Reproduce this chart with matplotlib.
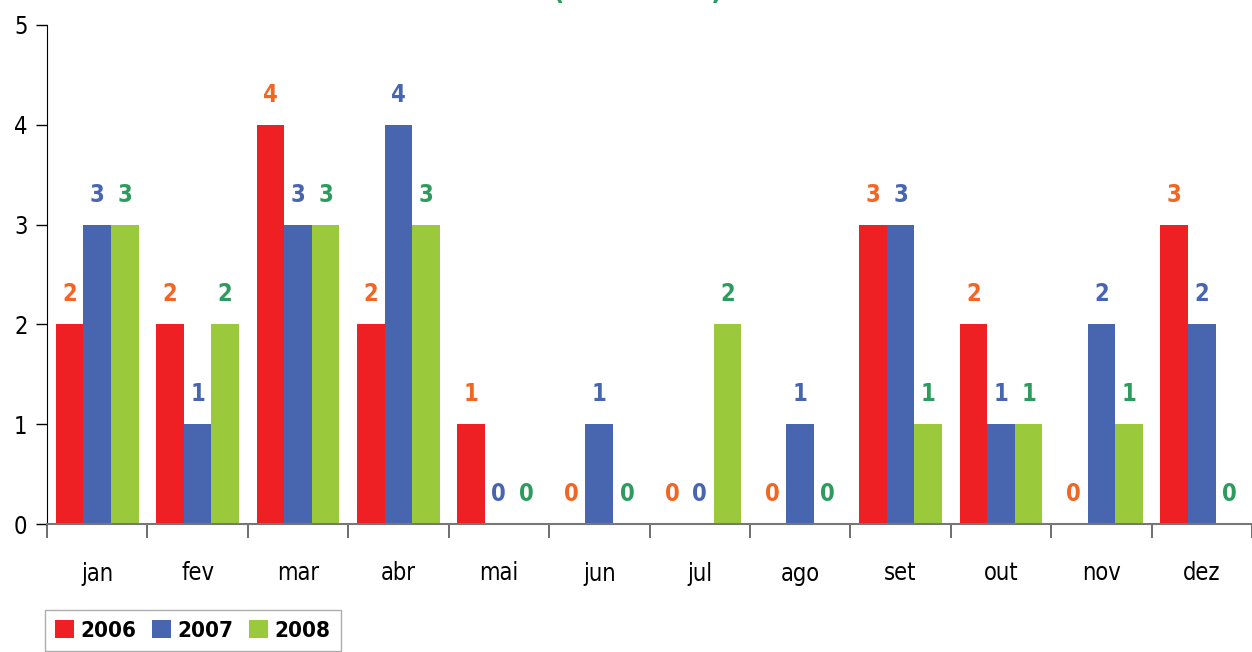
import matplotlib.pyplot as plt
import numpy as np

months = ['jan', 'fev', 'mar', 'abr', 'mai', 'jun', 'jul', 'ago', 'set', 'out', 'nov', 'dez']
years = ['2006', '2007', '2008']
v2006 = [2, 2, 4, 2, 1, 0, 0, 0, 3, 2, 0, 3]
v2007 = [3, 1, 3, 4, 0, 1, 0, 1, 3, 1, 2, 2]
v2008 = [3, 2, 3, 3, 0, 0, 2, 0, 1, 1, 1, 0]

bar_colors = ['#EE2024', '#4866B0', '#9ACA3C']
label_colors = ['#F26522', '#4866B0', '#2E9B5E']

plt.rcParams['font.family'] = ['DejaVu Sans']
plt.rcParams['font.stretch'] = 'condensed'

fig = plt.figure(figsize=(12.52, 6.52), dpi=100)
ax = fig.add_axes([47 / 1252, 1 - 524 / 652, 1 - 47 / 1252, (524 - 25) / 652])

x = np.arange(len(months))
w = 0.275
for i, (vals, c, lc) in enumerate(zip([v2006, v2007, v2008], bar_colors, label_colors)):
    pos = x + (i - 1) * w
    ax.bar(pos, vals, width=w, color=c, label=years[i], zorder=2)
    for p, v in zip(pos, vals):
        ax.text(p, v + 0.3, str(v), ha='center', va='center', color=lc,
                fontsize=17, fontweight='bold')

ax.set_xlim(-0.5, 11.5)
ax.set_ylim(0, 5)
ax.set_yticks(range(6))
ax.tick_params(axis='y', labelsize=17, length=8, width=1, pad=6, direction='out')

ax.set_xticks(np.arange(-0.5, 12, 1))
ax.set_xticklabels([])
ax.tick_params(axis='x', which='major', length=10, width=1.2, color='#555555', direction='out')
ax.set_xticks(x, minor=True)
ax.set_xticklabels(months, minor=True, fontsize=17)
ax.tick_params(axis='x', which='minor', length=0, pad=27)

for s in ['top', 'right']:
    ax.spines[s].set_visible(False)
ax.spines['left'].set_color('black')
ax.spines['bottom'].set_color('#777777')
ax.spines['bottom'].set_linewidth(1.5)

# title above the figure, only its bottom edge shows
fig.text(638 / 1252, 1.012, '(                 )', ha='center', va='center',
         color='#2E9B5E', fontsize=20, fontweight='bold')

leg = fig.legend(loc='upper left', bbox_to_anchor=(45 / 1252, 1 - 610 / 652), ncol=3,
                 prop={'weight': 'bold', 'size': 16, 'stretch': 'condensed'},
                 frameon=True, fancybox=False,
                 handlelength=0.85, handleheight=0.85, handletextpad=0.3, columnspacing=0.7,
                 borderpad=0.45, borderaxespad=0)
leg.get_frame().set_edgecolor('#999999')
leg.get_frame().set_linewidth(1)

fig.savefig('out.png', dpi=100)
